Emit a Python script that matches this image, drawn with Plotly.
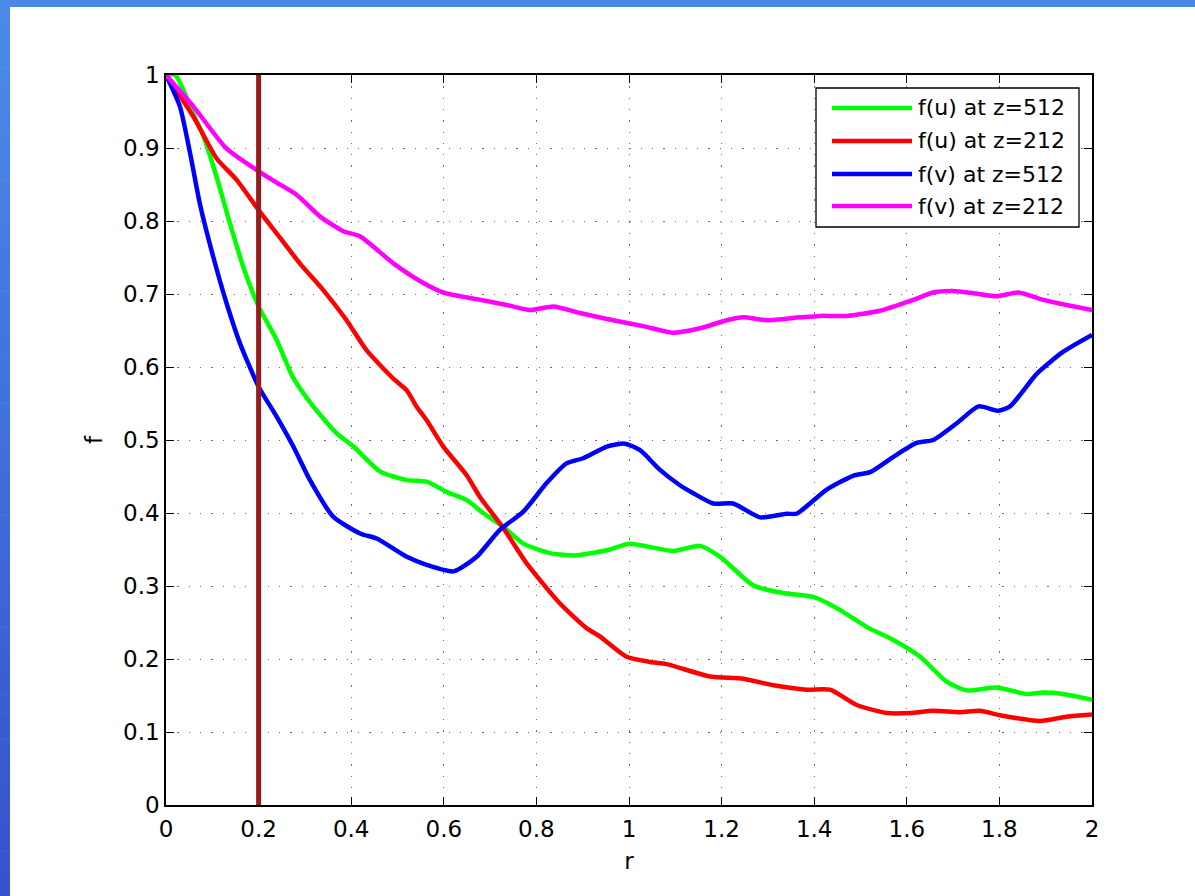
import plotly.graph_objects as go

# ---------------- data ----------------
green_r = [0, 0.02, 0.059, 0.081, 0.109, 0.138, 0.167, 0.2, 0.239, 0.275, 0.318, 0.369, 0.405, 0.462,
           0.52, 0.563, 0.606, 0.649, 0.685, 0.729, 0.772, 0.829, 0.887, 0.959, 1.0, 1.096, 1.153,
           1.197, 1.268, 1.326, 1.398, 1.456, 1.513, 1.571, 1.629, 1.686, 1.729, 1.794, 1.859,
           1.895, 1.938, 2.0]
green_f = [1.0, 1.0, 0.947, 0.916, 0.861, 0.797, 0.737, 0.683, 0.637, 0.585, 0.546, 0.509, 0.491,
           0.457, 0.445, 0.443, 0.429, 0.418, 0.4, 0.381, 0.358, 0.345, 0.342, 0.350, 0.358, 0.348,
           0.355, 0.340, 0.301, 0.291, 0.285, 0.267, 0.244, 0.226, 0.203, 0.169, 0.157, 0.161,
           0.152, 0.154, 0.152, 0.144]

red_r = [0, 0.059, 0.109, 0.153, 0.2, 0.239, 0.289, 0.340, 0.390, 0.433, 0.491, 0.520, 0.541, 0.563,
         0.599, 0.649, 0.678, 0.729, 0.779, 0.851, 0.909, 0.937, 0.995, 1.045, 1.081, 1.175, 1.247,
         1.312, 1.384, 1.434, 1.492, 1.557, 1.607, 1.657, 1.715, 1.758, 1.801, 1.888, 1.945, 2.0]
red_f = [1.0, 0.943, 0.886, 0.856, 0.815, 0.783, 0.742, 0.705, 0.664, 0.623, 0.584, 0.568, 0.546,
         0.527, 0.491, 0.452, 0.422, 0.379, 0.331, 0.276, 0.242, 0.231, 0.203, 0.196, 0.193, 0.176,
         0.173, 0.164, 0.158, 0.158, 0.137, 0.126, 0.126, 0.129, 0.127, 0.129, 0.123, 0.115,
         0.121, 0.124]

blue_r = [0, 0.03, 0.052, 0.073, 0.102, 0.131, 0.160, 0.2, 0.239, 0.275, 0.311, 0.361, 0.419, 0.455,
          0.520, 0.563, 0.621, 0.671, 0.721, 0.772, 0.822, 0.865, 0.901, 0.952, 0.991, 1.024, 1.067,
          1.110, 1.139, 1.182, 1.225, 1.283, 1.341, 1.362, 1.427, 1.484, 1.521, 1.571, 1.621,
          1.657, 1.708, 1.755, 1.798, 1.823, 1.881, 1.938, 2.0]
blue_f = [1.0, 0.957, 0.893, 0.824, 0.751, 0.687, 0.632, 0.573, 0.532, 0.491, 0.445, 0.395, 0.372,
          0.365, 0.340, 0.329, 0.320, 0.340, 0.377, 0.402, 0.441, 0.468, 0.475, 0.491, 0.495,
          0.486, 0.459, 0.438, 0.427, 0.413, 0.413, 0.394, 0.399, 0.399, 0.432, 0.451, 0.456,
          0.477, 0.496, 0.500, 0.523, 0.546, 0.540, 0.546, 0.591, 0.621, 0.644]

magenta_r = [0, 0.059, 0.131, 0.2, 0.238, 0.282, 0.333, 0.383, 0.419, 0.491, 0.556, 0.599, 0.671,
             0.736, 0.786, 0.837, 0.894, 0.966, 1.038, 1.096, 1.153, 1.211, 1.247, 1.297, 1.369,
             1.413, 1.470, 1.542, 1.614, 1.657, 1.700, 1.744, 1.794, 1.841, 1.895, 1.945, 2.0]
magenta_f = [1.0, 0.957, 0.899, 0.868, 0.853, 0.836, 0.806, 0.786, 0.779, 0.742, 0.715, 0.702,
             0.693, 0.685, 0.678, 0.683, 0.674, 0.664, 0.655, 0.647, 0.653, 0.664, 0.668, 0.664,
             0.668, 0.670, 0.670, 0.677, 0.692, 0.702, 0.704, 0.701, 0.697, 0.702, 0.692, 0.685,
             0.678]

series_names = ["f(u) at z=512", "f(u) at z=212", "f(v) at z=512", "f(v) at z=212"]
series_colors = ["#00ff00", "#ff0000", "#0000ff", "#ff00ff"]
marker_r = 0.2

x_ticks = [0, 0.2, 0.4, 0.6, 0.8, 1, 1.2, 1.4, 1.6, 1.8, 2]
x_labels = ["0", "0.2", "0.4", "0.6", "0.8", "1", "1.2", "1.4", "1.6", "1.8", "2"]
y_ticks = [0, 0.1, 0.2, 0.3, 0.4, 0.5, 0.6, 0.7, 0.8, 0.9, 1]
y_labels = ["0", "0.1", "0.2", "0.3", "0.4", "0.5", "0.6", "0.7", "0.8", "0.9", "1"]

# ---------------- figure ----------------
W, H = 1195, 896
ML, MR, MT, MB = 166, 103, 75, 91
PW, PH = W - ML - MR, H - MT - MB


def px_x(px):
    return (px - ML) / PW


def px_y(py):
    return (H - MB - py) / PH


FONT = "DejaVu Sans, Liberation Sans, Arial, sans-serif"
FS = 23
FS_LEG = 22

fig = go.Figure()
all_data = [(green_r, green_f), (red_r, red_f), (blue_r, blue_f), (magenta_r, magenta_f)]
for (xs, ys), name, col in zip(all_data, series_names, series_colors):
    fig.add_trace(go.Scatter(x=xs, y=ys, mode="lines", name=name,
                             line=dict(color=col, width=4.5, shape="spline", smoothing=0.6),
                             showlegend=False))

shapes = []
# vertical marker line
shapes.append(dict(type="line", xref="x", yref="y", x0=marker_r, x1=marker_r, y0=-0.007, y1=1,
                   line=dict(color="#981c1e", width=5), layer="above"))

# slide border (top band and left gradient band)
shapes.append(dict(type="rect", xref="paper", yref="paper", x0=px_x(0), x1=px_x(W),
                   y0=px_y(7), y1=px_y(0), fillcolor="#4a88e8", line=dict(width=0), layer="below"))
n = 40
c0 = (75, 139, 232)
c1 = (54, 82, 205)
for i in range(n):
    t = i / (n - 1)
    c = tuple(round(a + (b - a) * t) for a, b in zip(c0, c1))
    y_top = i * H / n
    y_bot = (i + 1) * H / n + 0.5
    shapes.append(dict(type="rect", xref="paper", yref="paper", x0=px_x(0), x1=px_x(10),
                       y0=px_y(min(y_bot, H)), y1=px_y(y_top),
                       fillcolor="rgb(%d,%d,%d)" % c, line=dict(width=0), layer="below"))

# custom legend box
lg_x0, lg_x1, lg_y0, lg_y1 = 816, 1079, 88, 227
shapes.append(dict(type="rect", xref="paper", yref="paper", x0=px_x(lg_x0), x1=px_x(lg_x1),
                   y0=px_y(lg_y1), y1=px_y(lg_y0), fillcolor="white",
                   line=dict(color="black", width=1.3), layer="above"))
row_y = [108, 141, 174, 206]
annotations = []
for ry, name, col in zip(row_y, series_names, series_colors):
    shapes.append(dict(type="line", xref="paper", yref="paper", x0=px_x(832), x1=px_x(912),
                       y0=px_y(ry), y1=px_y(ry), line=dict(color=col, width=4.5), layer="above"))
    annotations.append(dict(x=px_x(916), y=px_y(ry), xref="paper", yref="paper", text=name,
                            showarrow=False, xanchor="left", yanchor="middle",
                            font=dict(family=FONT, size=FS_LEG, color="black")))

axis_common = dict(showline=True, linecolor="black", linewidth=1.5, mirror="ticks",
                   ticks="inside", ticklen=8, tickcolor="black", tickwidth=1.2,
                   showgrid=True, gridcolor="#6f6f6f", gridwidth=1, griddash="1.3px,10px",
                   zeroline=False, tickfont=dict(family=FONT, size=FS, color="black"))

fig.update_layout(
    width=W, height=H, autosize=False,
    margin=dict(l=ML, r=MR, t=MT, b=MB),
    paper_bgcolor="white", plot_bgcolor="white",
    font=dict(family=FONT, size=FS, color="black"),
    xaxis=dict(range=[0, 2], tickvals=x_ticks, ticktext=x_labels, ticklabelstandoff=3,
               title=dict(text="r", font=dict(family=FONT, size=FS), standoff=12),
               **axis_common),
    yaxis=dict(range=[0, 1], tickvals=y_ticks, ticktext=y_labels, ticklabelstandoff=0,
               title=dict(text="f", font=dict(family=FONT, size=FS), standoff=14),
               **axis_common),
    shapes=shapes, annotations=annotations, showlegend=False,
)

fig.write_html("out.html")
